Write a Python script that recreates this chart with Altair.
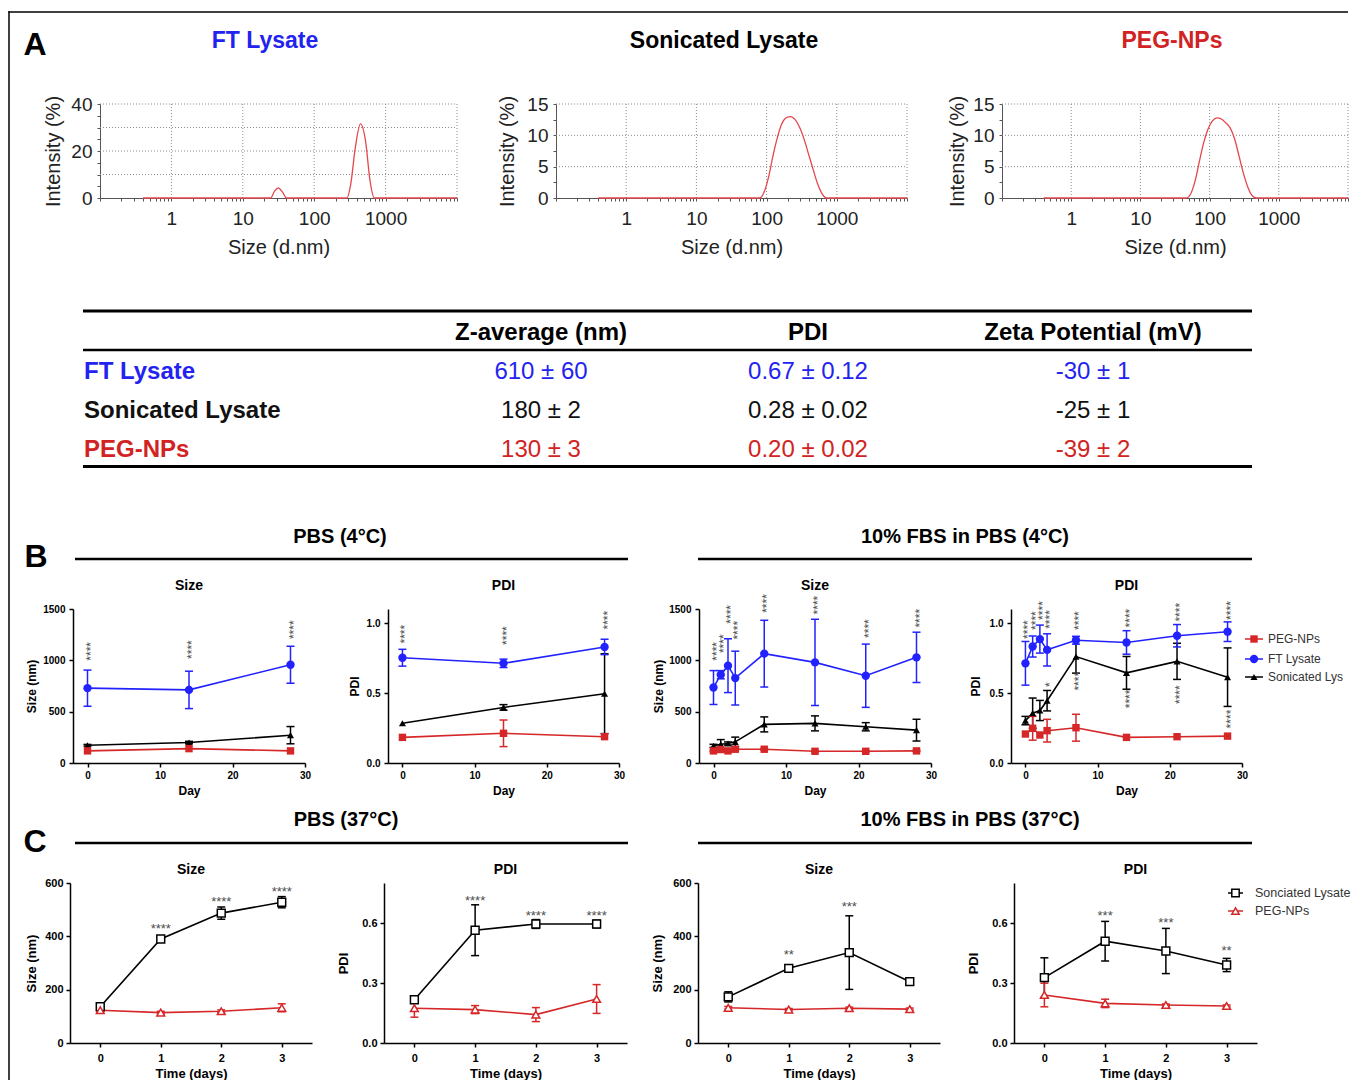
import altair as alt
import pandas as pd

FONT = "Liberation Sans"
BLUE_TXT = "#2323f0"
RED_TXT = "#d12323"
BLUE = "#2222ff"
RED = "#d62728"
BLACK = "#000000"
CURVE = "#e4474c"
GRID = "#8c8c8c"
STAR = "#4d4d4d"

# ---------------- Panel A : DLS size distributions ----------------
LETTERS = ["A", "B", "C"]
DLS_TITLES = ["FT Lysate", "Sonicated Lysate", "PEG-NPs"]
FT_SIZE = [0.4, 24.5, 28, 31.5, 36, 41, 288, 324, 376, 445, 525, 605, 695, 10000]
FT_INT = [0, 0, 3.0, 4.3, 2.5, 0, 0, 5.7, 21.3, 31.5, 24.0, 7.4, 0, 0]
SL_SIZE = [0.4, 79, 91, 106, 122, 142, 164, 190, 220, 255, 295, 342, 396, 459, 531, 615, 712, 10000]
SL_INT = [0, 0, 0.8, 3.2, 6.5, 9.6, 11.8, 12.8, 13.0, 12.5, 11.3, 9.4, 7.0, 4.6, 2.3, 0.7, 0, 0]
PEG_SIZE = [0.4, 46, 53, 62, 71, 82, 95, 110, 128, 148, 171, 198, 229, 265, 307, 355, 411, 476, 10000]
PEG_INT = [0, 0, 0.6, 2.8, 5.8, 8.8, 11.0, 12.3, 12.8, 12.6, 12.0, 11.2, 9.5, 6.8, 4.0, 1.8, 0.4, 0, 0]
DLS_XLABELS = [1, 10, 100, 1000]
DLS_XGRID = [1, 10, 100, 1000, 10000]
DLS_XTICKS = [round(m * 10.0 ** e, 6) for e in range(-1, 4) for m in range(1, 10)] + [10000]

# ---------------- Table ----------------
TABLE_COLS = ["Z-average (nm)", "PDI", "Zeta Potential (mV)"]
TABLE_ROWS = ["FT Lysate", "Sonicated Lysate", "PEG-NPs"]
Z_AVG = ["610 ± 60", "180 ± 2", "130 ± 3"]
PDI_VALS = ["0.67 ± 0.12", "0.28 ± 0.02", "0.20 ± 0.02"]
ZETA = ["-30 ± 1", "-25 ± 1", "-39 ± 2"]

# ---------------- Panels B and C ----------------
SECTIONS_B = ["PBS (4°C)", "10% FBS in PBS (4°C)"]
SECTIONS_C = ["PBS (37°C)", "10% FBS in PBS (37°C)"]
PANEL_TITLES = ["Size", "PDI"]
SERIES_B = ["PEG-NPs", "FT Lysate", "Sonicated Lysate"]
SERIES_C = ["Sonciated Lysate", "PEG-NPs"]

B_PBS_DAYS = [0, 14, 28]
B1_FT = [729, 712, 957]
B1_FT_ERR = [176, 182, 180]
B1_SL = [173, 199, 271]
B1_SL_ERR = [8, 12, 84]
B1_PEG = [118, 140, 118]
B1_PEG_ERR = [0, 0, 0]
B1_STAR_Y = [1088, 1105, 1298]

B2_FT = [0.752, 0.712, 0.829]
B2_FT_ERR = [0.06, 0.03, 0.055]
B2_SL = [0.284, 0.397, 0.495]
B2_SL_ERR = [0.0, 0.02, 0.285]
B2_PEG = [0.183, 0.212, 0.188]
B2_PEG_ERR = [0.0, 0.095, 0.0]
B2_STAR_Y = [0.92, 0.91, 1.02]

B_FBS_DAYS = [0, 1, 2, 3, 7, 14, 21, 28]
B3_FT = [735, 860, 948, 827, 1065, 980, 850, 1029]
B3_FT_ERR = [165, 40, 262, 262, 325, 420, 308, 245]
B3_SL = [167, 183, 190, 206, 376, 386, 353, 320]
B3_SL_ERR = [15, 45, 15, 46, 73, 73, 40, 106]
B3_PEG = [118, 131, 118, 134, 134, 114, 114, 118]
B3_PEG_ERR = [8, 8, 8, 8, 8, 6, 6, 6]
B3_STAR_Y = [1088, 1162, 1448, 1293, 1554, 1538, 1309, 1410]

B4_FT = [0.712, 0.832, 0.885, 0.808, 0.877, 0.861, 0.909, 0.938]
B4_FT_ERR = [0.156, 0.075, 0.10, 0.115, 0.028, 0.084, 0.08, 0.07]
B4_SL = [0.303, 0.356, 0.375, 0.445, 0.76, 0.644, 0.726, 0.613]
B4_SL_ERR = [0.03, 0.108, 0.072, 0.073, 0.118, 0.117, 0.129, 0.209]
B4_PEG = [0.207, 0.248, 0.2, 0.231, 0.252, 0.183, 0.188, 0.192]
B4_PEG_ERR = [0.0, 0.085, 0.0, 0.081, 0.096, 0.0, 0.0, 0.0]
B4_STAR_FT_Y = [0.953, 1.017, 1.089, 1.025, 1.017, 1.035, 1.077, 1.089]
B4_STAR_SL_DAYS = [3, 7, 14, 21, 28]
B4_STAR_SL_LAB = ["*", "****", "****", "****", "****"]
B4_STAR_SL_Y = [0.56, 0.584, 0.458, 0.488, 0.314]

C_DAYS = [0, 1, 2, 3]
C1_SL = [136, 390, 487, 528]
C1_SL_ERR = [8, 8, 23, 21]
C1_PEG = [123, 114, 119, 132]
C1_PEG_ERR = [6, 5, 5, 15]
C1_STAR_DAYS = [1, 2, 3]
C1_STAR_LAB = ["****", "****", "****"]
C1_STAR_Y = [439, 541, 577]

C2_SL = [0.2165, 0.564, 0.595, 0.595]
C2_SL_ERR = [0.01, 0.127, 0.022, 0.019]
C2_PEG = [0.174, 0.167, 0.142, 0.22]
C2_PEG_ERR = [0.045, 0.02, 0.035, 0.072]
C2_STAR_DAYS = [1, 2, 3]
C2_STAR_LAB = ["****", "****", "****"]
C2_STAR_Y = [0.727, 0.65, 0.65]

C3_SL = [173, 280, 339, 230]
C3_SL_ERR = [19, 13, 138, 8]
C3_PEG = [132, 125.5, 130.5, 127]
C3_PEG_ERR = [5, 4, 4, 4]
C3_STAR_DAYS = [1, 2]
C3_STAR_LAB = ["**", "***"]
C3_STAR_Y = [343, 521]

C4_SL = [0.327, 0.509, 0.46, 0.39]
C4_SL_ERR = [0.099, 0.099, 0.113, 0.033]
C4_PEG = [0.24, 0.198, 0.19, 0.185]
C4_PEG_ERR = [0.059, 0.021, 0.005, 0.005]
C4_STAR_DAYS = [1, 2, 3]
C4_STAR_LAB = ["***", "***", "**"]
C4_STAR_Y = [0.65, 0.617, 0.476]


# ---------------- helpers ----------------
def one():
    return alt.Chart(pd.DataFrame({"v": [0]}))


def text_layer(txt, x, y, size, color="#000", weight="bold", align="center", limit=0):
    kw = dict(font=FONT, fontSize=size, fontWeight=weight, color=color, align=align, baseline="middle")
    if limit:
        kw.update(limit=limit, ellipsis=" ")
    return alt.Chart(pd.DataFrame({"t": [txt]})).mark_text(**kw).encode(
        text="t:N", x=alt.value(x), y=alt.value(y))


def hrule(x1, x2, y, w=2.5, color="#000"):
    return one().mark_rule(color=color, strokeWidth=w).encode(
        x=alt.value(x1), x2=alt.value(x2), y=alt.value(y))


def border(y1, y2):
    # thin filled bar used as the figure frame on the left (exact bounds, no stroke)
    return one().mark_rect(color="#000").encode(
        x=alt.value(0.25), x2=alt.value(1.75), y=alt.value(y1), y2=alt.value(y2))


def hborder(x1, x2, y):
    return one().mark_rect(color="#000").encode(
        x=alt.value(x1), x2=alt.value(x2), y=alt.value(y - 0.75), y2=alt.value(y + 0.75))


def spacer(w, h, frame=None):
    if frame is not None:
        c = border(frame[0], frame[1])
    else:
        c = one().mark_point(opacity=0).encode(x=alt.value(0), y=alt.value(0))
    return c.properties(width=w, height=h)


def dls_panel(sizes, ints, width, height, ymax, yticks, ylab_step, ygrid, ytp):
    xs = alt.Scale(type="log", domain=[0.1, 10000], nice=False)
    ys = alt.Scale(domain=[0, ymax], nice=False)
    common = dict(domainColor="#555", domainWidth=1, tickColor="#555", tickSize=3,
                  labelFont=FONT, labelFontSize=19, labelColor="#222",
                  titleFont=FONT, titleFontSize=20, titleFontWeight="normal", titleColor="#222",
                  grid=False, labelOverlap=False, labelFlush=False)
    xa = alt.Axis(values=DLS_XTICKS, title="Size (d.nm)",
                  labelExpr="indexof(%s, datum.value) >= 0 ? '' + datum.value : ''" % str(DLS_XLABELS),
                  labelPadding=8, titlePadding=9, **common)
    ya = alt.Axis(values=yticks, title="Intensity (%)",
                  labelExpr="datum.value %% %d == 0 ? format(datum.value, 'd') : ''" % ylab_step,
                  labelPadding=5, titlePadding=ytp, **common)
    gx = alt.Chart(pd.DataFrame({"g": DLS_XGRID})).mark_rule(
        color=GRID, strokeDash=[1, 2], strokeWidth=1).encode(
        x=alt.X("g:Q", scale=xs, axis=xa), y=alt.value(0), y2=alt.value(height))
    gy = alt.Chart(pd.DataFrame({"g": ygrid})).mark_rule(
        color=GRID, strokeDash=[1, 2], strokeWidth=1).encode(
        y=alt.Y("g:Q", scale=ys, axis=ya), x=alt.value(0), x2=alt.value(width))
    df = pd.DataFrame({"size": sizes, "int": ints})
    curve = alt.Chart(df).mark_line(color=CURVE, strokeWidth=1.3, interpolate="monotone").encode(
        x=alt.X("size:Q", scale=xs, axis=xa), y=alt.Y("int:Q", scale=ys, axis=ya))
    return alt.layer(gx, gy, curve).properties(width=width, height=height)


def prism_axis(vals, title, fmt, lab, tit, lpad, tpad):
    return alt.Axis(values=vals, title=title, format=fmt, grid=False,
                    domainColor="#000", domainWidth=1.5, tickColor="#000", tickWidth=1.5, tickSize=4,
                    labelFont=FONT, labelFontSize=lab, labelFontWeight="bold", labelColor="#000",
                    titleFont=FONT, titleFontSize=tit, titleFontWeight="bold", titleColor="#000",
                    labelPadding=lpad, titlePadding=tpad, labelOverlap=False, labelFlush=False)


def tpanel(width, height, xdom, xvals, ydom, yvals, yfmt, xtitle, ytitle,
           lab, tit, xlp, xtp, ylp, ytp, series, stars, title, title_y,
           star_angle, star_size, open_marks, extra=()):
    xs = alt.Scale(domain=xdom, nice=False, zero=False)
    ys = alt.Scale(domain=ydom, nice=False, zero=False)
    xa = prism_axis(xvals, xtitle, "d", lab, tit, xlp, xtp)
    ya = prism_axis(yvals, ytitle, yfmt, lab, tit, ylp, ytp)
    X = alt.X("day:Q", scale=xs, axis=xa)

    def Y(f):
        return alt.Y(f, type="quantitative", scale=ys, axis=ya)

    back, front = [], []
    for s in series:
        df = pd.DataFrame({"day": s["days"], "mean": s["mean"], "err": s["err"]})
        df["lo"] = df["mean"] - df["err"]
        df["hi"] = df["mean"] + df["err"]
        base = alt.Chart(df)
        eb = alt.Chart(df[df["err"] > 0])
        back.append(eb.mark_rule(color=s["color"], strokeWidth=1.5).encode(
            x=X, y=Y("lo"), y2=alt.Y2("hi")))
        for f in ("lo", "hi"):
            back.append(eb.mark_tick(color=s["color"], orient="horizontal", size=8,
                                     thickness=1.5, opacity=1).encode(x=X, y=Y(f)))
        back.append(base.mark_line(color=s["color"], strokeWidth=1.6).encode(x=X, y=Y("mean")))
        if open_marks:
            pm = base.mark_point(shape=s["shape"], filled=False, fill="white", color=s["color"],
                                 size=s["size"], strokeWidth=1.5, opacity=1)
        else:
            pm = base.mark_point(shape=s["shape"], filled=True, color=s["color"],
                                 size=s["size"], opacity=1)
        front.append(pm.encode(x=X, y=Y("mean")))
    for st in stars:
        sdf = pd.DataFrame({"day": st["days"], "sy": st["y"], "lab": st["lab"]})
        front.append(alt.Chart(sdf).mark_text(
            angle=star_angle, fontSize=star_size, color=STAR, font=FONT, dy=3,
            baseline="middle", align="center").encode(x=X, y=Y("sy"), text="lab:N"))
    front.append(text_layer(title, width / 2, title_y, 14))
    return alt.layer(*back, *front, *extra).properties(width=width, height=height)


def legend_layers(names, colors, shapes, sizes, ys, xl1, xl2, xm, xt, fsize, limit, open_marks):
    out = []
    for n, c, sh, sz, y in zip(names, colors, shapes, sizes, ys):
        out.append(hrule(xl1, xl2, y, w=1.5, color=c))
        if open_marks:
            pm = one().mark_point(shape=sh, filled=False, fill="white", color=c, size=sz,
                                  strokeWidth=1.5, opacity=1)
        else:
            pm = one().mark_point(shape=sh, filled=True, color=c, size=sz, opacity=1)
        out.append(pm.encode(x=alt.value(xm), y=alt.value(y)))
        out.append(text_layer(n, xt, y, fsize, color="#333", weight="normal", align="left", limit=limit))
    return out


W = 1340

# ---------------- Row 0 : letter A + DLS titles (page y 8..89) ----------------
R0_B = 81
R0 = alt.layer(
    hborder(0.25, W, 4),
    border(3.25, R0_B),
    text_layer(LETTERS[0], 27, 37, 32),
    text_layer(DLS_TITLES[0], 257, 33, 23, color=BLUE_TXT),
    text_layer(DLS_TITLES[1], 716, 33, 23),
    text_layer(DLS_TITLES[2], 1164, 33, 23, color=RED_TXT),
).properties(width=W, height=R0_B)

# ---------------- Row 1 : DLS plots (plot top at page y 104) ----------------
R1_T, R1_B = 15, 170
Y40 = [0, 5, 10, 15, 20, 25, 30, 35, 40]
Y15 = [0, 2.5, 5, 7.5, 10, 12.5, 15]
R1 = alt.hconcat(
    spacer(92, 94, frame=(-R1_T, R1_B)),
    dls_panel(FT_SIZE, FT_INT, 357, 94, 40, Y40, 20, [10, 20, 30, 40], 7),
    spacer(99, 94),
    dls_panel(SL_SIZE, SL_INT, 351, 94, 15, Y15, 5, [5, 10, 15], 9),
    spacer(95, 94),
    dls_panel(PEG_SIZE, PEG_INT, 346, 94, 15, Y15, 5, [5, 10, 15], 5),
    spacing=0, bounds="flush",
)

# ---------------- Row 2 : table + B header (page y 274..576) ----------------
R2_B = 302
tdf = pd.DataFrame({"row": TABLE_ROWS, "z": Z_AVG, "pdi": PDI_VALS, "zeta": ZETA})
row_y = alt.Y("row:N", scale=alt.Scale(domain=TABLE_ROWS, range=[98, 176], padding=0), axis=None)
row_c = alt.Color("row:N", scale=alt.Scale(domain=TABLE_ROWS, range=[BLUE_TXT, "#111111", RED_TXT]),
                  legend=None)
COL_X = [533, 800, 1085]
table_layers = [
    hrule(75, 1244, 37, w=3),
    hrule(75, 1244, 76, w=2.5),
    hrule(75, 1244, 192.5, w=3),
    alt.Chart(tdf).mark_text(font=FONT, fontSize=24, fontWeight="bold", align="left",
                             baseline="middle").encode(text="row:N", x=alt.value(76), y=row_y, color=row_c),
]
for col, field, cx in zip(TABLE_COLS, ["z", "pdi", "zeta"], COL_X):
    table_layers.append(text_layer(col, cx, 59, 24))
    table_layers.append(alt.Chart(tdf).mark_text(font=FONT, fontSize=24, align="center",
                                                 baseline="middle").encode(
        text=f"{field}:N", x=alt.value(cx), y=row_y, color=row_c))

R2 = alt.layer(
    border(0, R2_B),
    *table_layers,
    text_layer(LETTERS[1], 28, 283, 32),
    text_layer(SECTIONS_B[0], 332, 263, 20),
    text_layer(SECTIONS_B[1], 957, 263, 20),
    hrule(67, 620, 285),
    hrule(690, 1244, 285),
).properties(width=W, height=R2_B)


# ---------------- Row 3 : B plots (plot top at page y 609) ----------------
def ser(days, mean, err, color, shape, size):
    return dict(days=days, mean=mean, err=err, color=color, shape=shape, size=size)


def bser(days, ft, fte, sl, sle, peg, pege):
    return [ser(days, sl, sle, BLACK, "triangle-up", 50),
            ser(days, peg, pege, RED, "square", 55),
            ser(days, ft, fte, BLUE, "circle", 70)]


R3_T, R3_B = 33, 194
BW, BH = 232, 154
bargs = dict(lab=10, tit=12, xlp=3, xtp=5, ylp=4, title_y=-23, star_angle=270, star_size=12,
             open_marks=False)
b_leg = legend_layers(SERIES_B, [RED, BLUE, BLACK], ["square", "circle", "triangle-up"],
                      [55, 70, 50], [30, 50, 68], 234, 252, 243, 257, 12, 82, False)

B1 = tpanel(BW, BH, [-2, 30], [0, 10, 20, 30], [0, 1500], [0, 500, 1000, 1500], "d", "Day", "Size (nm)",
            ytp=4, series=bser(B_PBS_DAYS, B1_FT, B1_FT_ERR, B1_SL, B1_SL_ERR, B1_PEG, B1_PEG_ERR),
            stars=[dict(days=B_PBS_DAYS, y=B1_STAR_Y, lab=["****"] * 3)], title=PANEL_TITLES[0], **bargs)
B2 = tpanel(231, BH, [-2, 30], [0, 10, 20, 30], [0, 1.1], [0, 0.5, 1.0], ".1f", "Day", "PDI",
            ytp=5, series=bser(B_PBS_DAYS, B2_FT, B2_FT_ERR, B2_SL, B2_SL_ERR, B2_PEG, B2_PEG_ERR),
            stars=[dict(days=B_PBS_DAYS, y=B2_STAR_Y, lab=["****"] * 3)], title=PANEL_TITLES[1], **bargs)
B3 = tpanel(BW, BH, [-2, 30], [0, 10, 20, 30], [0, 1500], [0, 500, 1000, 1500], "d", "Day", "Size (nm)",
            ytp=3, series=bser(B_FBS_DAYS, B3_FT, B3_FT_ERR, B3_SL, B3_SL_ERR, B3_PEG, B3_PEG_ERR),
            stars=[dict(days=B_FBS_DAYS, y=B3_STAR_Y, lab=["****"] * 8)], title=PANEL_TITLES[0], **bargs)
B4 = tpanel(231, BH, [-2, 30], [0, 10, 20, 30], [0, 1.1], [0, 0.5, 1.0], ".1f", "Day", "PDI",
            ytp=7, series=bser(B_FBS_DAYS, B4_FT, B4_FT_ERR, B4_SL, B4_SL_ERR, B4_PEG, B4_PEG_ERR),
            stars=[dict(days=B_FBS_DAYS, y=B4_STAR_FT_Y, lab=["****"] * 8),
                   dict(days=B4_STAR_SL_DAYS, y=B4_STAR_SL_Y, lab=B4_STAR_SL_LAB)],
            title=PANEL_TITLES[1], extra=b_leg, **bargs)

R3 = alt.hconcat(spacer(65, BH, frame=(-R3_T, R3_B)), B1, spacer(83, BH), B2, spacer(80, BH), B3,
                 spacer(80, BH), B4, spacing=0, bounds="flush")

# ---------------- Row 4 : C header (page y 803..860) ----------------
R4_B = 57
R4 = alt.layer(
    border(0, R4_B),
    text_layer(LETTERS[2], 27, 39, 32),
    text_layer(SECTIONS_C[0], 338, 17, 20),
    text_layer(SECTIONS_C[1], 962, 17, 20),
    hrule(67, 620, 40),
    hrule(690, 1244, 40),
).properties(width=W, height=R4_B)


# ---------------- Row 5 : C plots (plot top at page y 883) ----------------
def cser(sl, sle, peg, pege):
    return [ser(C_DAYS, sl, sle, BLACK, "square", 62),
            ser(C_DAYS, peg, pege, RED, "triangle-up", 60)]


R5_T, R5_B = 23, 197
CH = 160
cargs = dict(lab=11, tit=13, xlp=5, xtp=4, ylp=3, title_y=-13, star_angle=0, star_size=13,
             open_marks=True)
c_leg = legend_layers(SERIES_C, [BLACK, RED], ["square", "triangle-up"], [55, 55], [10, 28],
                      214, 229, 221.5, 241, 12.5, 97, True)

C1 = tpanel(242, CH, [-0.5, 3.5], [0, 1, 2, 3], [0, 600], [0, 200, 400, 600], "d", "Time (days)",
            "Size (nm)", ytp=6, series=cser(C1_SL, C1_SL_ERR, C1_PEG, C1_PEG_ERR),
            stars=[dict(days=C1_STAR_DAYS, y=C1_STAR_Y, lab=C1_STAR_LAB)], title=PANEL_TITLES[0], **cargs)
C2 = tpanel(243, CH, [-0.5, 3.5], [0, 1, 2, 3], [0, 0.8], [0, 0.3, 0.6], ".1f", "Time (days)",
            "PDI", ytp=11, series=cser(C2_SL, C2_SL_ERR, C2_PEG, C2_PEG_ERR),
            stars=[dict(days=C2_STAR_DAYS, y=C2_STAR_Y, lab=C2_STAR_LAB)], title=PANEL_TITLES[1], **cargs)
C3 = tpanel(242, CH, [-0.5, 3.5], [0, 1, 2, 3], [0, 600], [0, 200, 400, 600], "d", "Time (days)",
            "Size (nm)", ytp=8, series=cser(C3_SL, C3_SL_ERR, C3_PEG, C3_PEG_ERR),
            stars=[dict(days=C3_STAR_DAYS, y=C3_STAR_Y, lab=C3_STAR_LAB)], title=PANEL_TITLES[0], **cargs)
C4 = tpanel(243, CH, [-0.5, 3.5], [0, 1, 2, 3], [0, 0.8], [0, 0.3, 0.6], ".1f", "Time (days)",
            "PDI", ytp=11, series=cser(C4_SL, C4_SL_ERR, C4_PEG, C4_PEG_ERR),
            stars=[dict(days=C4_STAR_DAYS, y=C4_STAR_Y, lab=C4_STAR_LAB)], title=PANEL_TITLES[1],
            extra=c_leg, **cargs)

R5 = alt.hconcat(spacer(62, CH, frame=(-R5_T, R5_B)), C1, spacer(72, CH), C2, spacer(71, CH), C3,
                 spacer(74, CH), C4, spacing=0, bounds="flush")

chart = alt.vconcat(R0, R1, R2, R3, R4, R5, spacing=0, bounds="full").properties(
    padding=0
).configure(font=FONT, view=alt.ViewConfig(strokeWidth=0))

chart.save("out.html", embed_options={"renderer": "svg", "actions": False})
